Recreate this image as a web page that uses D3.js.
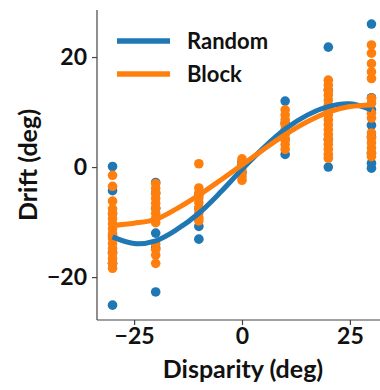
<!DOCTYPE html>
<html lang="en">
<head>
  <meta charset="UTF-8">
  <title>Drift vs Disparity</title>
  <style>
    body {
      margin: 0;
      padding: 0;
      background-color: #ffffff;
    }

    svg {
      display: block;
      font-family: 'Lato', sans-serif;
      font-weight: 700;
    }
  </style>
</head>
<body>

<svg width="380" height="390"></svg>

<script src="https://d3js.org/d3.v7.min.js"></script>
<script>
  const width = 380, height = 390;

  // disparity conditions (deg)
  const disparities = [-30, -20, -10, 0, 10, 20, 30];

  // drift values per disparity
  const randomDrift = [
    [0.1, -4.3, -8.5, -12.5, -15.5, -17.5, -25.1],
    [-2.8, -4.7, -7.5, -12.0, -14.7, -22.7],
    [-5.0, -7.5, -10.8, -13.1],
    [-1.0, 0.5, 1.0],
    [12.0, 8.0, 5.0, 2.3],
    [21.8, 14.0, 10.0, 5.0, 0.0],
    [26.0, 12.6, 10.4, 7.6, 5.5, 2.5, 0.7, -0.2]
  ];

  const blockDrift = [
    [-1.5, -3.5, -6.2, -7.6, -8.5, -9.4, -10.3, -11.2, -12.1, -13.0, -13.9, -14.8, -15.7, -16.6, -17.5, -18.4],
    [-3.0, -3.9, -4.8, -5.7, -6.6, -7.5, -8.4, -9.3, -10.1, -14.0, -15.0, -16.0, -17.5],
    [0.6, -3.8, -4.7, -5.6, -6.5, -7.4, -8.3, -9.2, -9.8],
    [1.5, 0.7, -0.1, -0.9, -1.7, -2.4],
    [10.4, 9.5, 8.6, 7.7, 6.8, 5.9, 5.0, 4.1, 3.2],
    [15.8, 14.9, 14.0, 13.1, 12.2, 11.3, 10.4, 9.5, 8.6, 7.7, 6.8, 5.9, 5.0, 4.1, 3.2, 2.3, 1.6],
    [22.2, 20.7, 18.8, 17.3, 16.1, 12.5, 11.6, 9.8, 8.9, 6.2, 5.3, 4.4, 3.5, 2.6, 1.9]
  ];

  // fitted curves, sampled every 5 deg
  const fitX = [-30, -25, -20, -15, -10, -5, 0, 5, 10, 15, 20, 25, 30];
  const randomFit = [-12.7, -13.9, -13.4, -11.3, -8.4, -4.6, -0.4, 3.5, 6.9, 9.4, 11.0, 11.5, 10.4];
  const blockFit = [-10.6, -10.2, -9.5, -7.5, -5.1, -2.4, 0.4, 3.2, 5.9, 8.2, 10.0, 11.0, 11.3];

  const xTicks = [-25, 0, 25];
  const yTicks = [-20, 0, 20];

  const series = [
    { name: "Random", color: "#1f77b4", drift: randomDrift, fit: randomFit },
    { name: "Block", color: "#ff7f0e", drift: blockDrift, fit: blockFit }
  ];

  const svg = d3.select("svg")
    .attr("viewBox", `0 0 ${width} ${height}`);

  const x = d3.scaleLinear().domain([-33.6, 33.6]).range([97, 387]);
  const y = d3.scaleLinear().domain([-27.8, 28.55]).range([320, 10]);

  const fmt = d => d < 0 ? "\u2212" + Math.abs(d) : String(d);

  // scatter points (random first, block drawn over it)
  series.forEach(s => {
    const pts = [];
    s.drift.forEach((vals, i) => vals.forEach(v => pts.push([disparities[i], v])));
    svg.append("g")
      .selectAll("circle")
      .data(pts)
      .enter()
      .append("circle")
      .attr("cx", d => x(d[0]))
      .attr("cy", d => y(d[1]))
      .attr("r", 4.8)
      .attr("fill", s.color);
  });

  // fit curves
  const line = d3.line()
    .x(d => x(d[0]))
    .y(d => y(d[1]))
    .curve(d3.curveCatmullRom);

  series.forEach(s => {
    svg.append("path")
      .attr("d", line(fitX.map((v, i) => [v, s.fit[i]])))
      .attr("fill", "none")
      .attr("stroke", s.color)
      .attr("stroke-width", 5)
      .attr("stroke-linecap", "butt");
  });

  // axes
  const xAxis = svg.append("g")
    .attr("transform", "translate(0,320)")
    .call(d3.axisBottom(x).tickValues(xTicks).tickFormat(fmt).tickSize(5).tickPadding(3));

  const yAxis = svg.append("g")
    .attr("transform", "translate(97,0)")
    .call(d3.axisLeft(y).tickValues(yTicks).tickFormat(fmt).tickSize(5).tickPadding(5));

  [xAxis, yAxis].forEach(g => {
    g.select(".domain").attr("stroke", "#444").attr("stroke-width", 1.2);
    g.selectAll(".tick line").attr("stroke", "#444").attr("stroke-width", 1.2);
    g.selectAll("text")
      .attr("fill", "#111")
      .style("font-family", "Lato, sans-serif")
      .style("font-weight", 700)
      .style("font-size", "23px");
  });
  // hide the part of the y spine outside the x range the way matplotlib does
  yAxis.select(".domain").attr("d", "M0,10V320");
  xAxis.select(".domain").attr("d", "M97,0H387");

  // axis titles
  svg.append("text")
    .attr("x", 243)
    .attr("y", 378)
    .attr("text-anchor", "middle")
    .attr("fill", "#111")
    .style("font-size", "25px")
    .text("Disparity (deg)");

  svg.append("text")
    .attr("transform", "translate(37,165) rotate(-90)")
    .attr("text-anchor", "middle")
    .attr("fill", "#111")
    .style("font-size", "25px")
    .text("Drift (deg)");

  // legend
  const legend = svg.append("g");
  series.forEach((s, i) => {
    const ly = 41 + i * 33;
    legend.append("line")
      .attr("x1", 117).attr("x2", 170)
      .attr("y1", ly).attr("y2", ly)
      .attr("stroke", s.color)
      .attr("stroke-width", 5.5);
    legend.append("text")
      .attr("x", 187)
      .attr("y", ly + 7.5)
      .attr("fill", "#111")
      .style("font-size", "22px")
      .text(s.name);
  });
</script>

</body>
</html>
